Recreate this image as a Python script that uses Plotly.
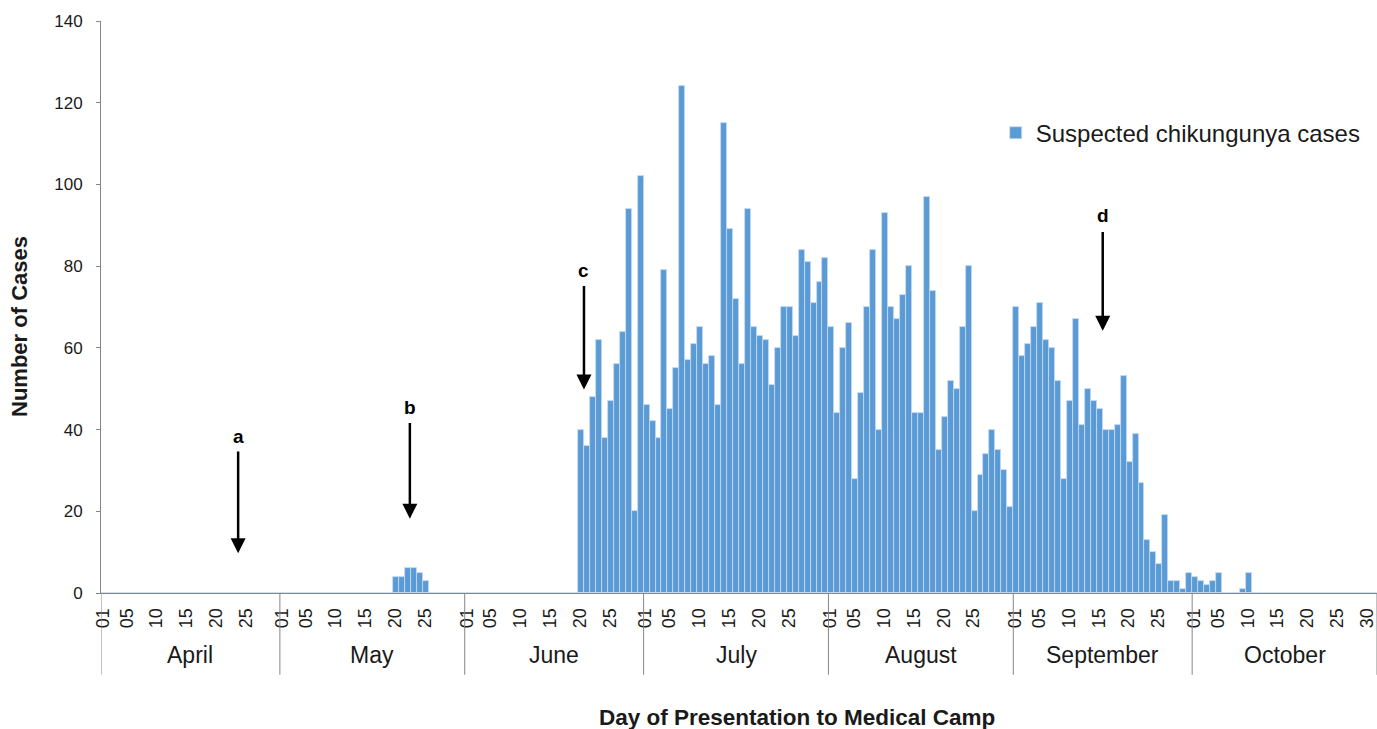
import plotly.graph_objects as go

# Daily counts of suspected chikungunya cases, one list per month
months = ["April", "May", "June", "July", "August", "September", "October"]
april = [0] * 30
may = [0] * 19 + [4, 4, 6, 6, 5, 3] + [0] * 6
june = [0] * 19 + [40, 36, 48, 62, 38, 47, 56, 64, 94, 20, 102]
july = [46, 42, 38, 79, 45, 55, 124, 57, 61, 65,
        56, 58, 46, 115, 89, 72, 56, 94, 65, 63,
        62, 51, 60, 70, 70, 63, 84, 81, 71, 76, 82]
august = [65, 44, 60, 66, 28, 49, 70, 84, 40, 93,
          70, 67, 73, 80, 44, 44, 97, 74, 35, 43,
          52, 50, 65, 80, 20, 29, 34, 40, 35, 30, 21]
september = [70, 58, 61, 65, 71, 62, 60, 52, 28, 47,
             67, 41, 50, 47, 45, 40, 40, 41, 53, 32,
             39, 27, 13, 10, 7, 19, 3, 3, 1, 5]
october = [4, 3, 2, 3, 5, 0, 0, 0, 1, 5] + [0] * 21

month_values = [april, may, june, july, august, september, october]
day_labels = ["01", "05", "10", "15", "20", "25"]
last_month_extra = ["30"]

# Event markers: (label, month, day position, arrow top value, arrow tip value, label value)
events = [
    ("a", "April", 23.5, 35, 9.7, 38.3),
    ("b", "May", 22.3, 42, 18.2, 45.4),
    ("c", "June", 20.5, 75.5, 49.8, 78.9),
    ("d", "September", 15.5, 88.7, 64.2, 92.4),
]

# Flatten the months into one sequential day index
cases = []
month_start = {}
tickvals, ticktext = [], []
for k, (name, vals) in enumerate(zip(months, month_values)):
    start = len(cases)
    month_start[name] = start
    shown = day_labels + (last_month_extra if k == len(months) - 1 else [])
    for d in range(1, len(vals) + 1):
        lab = f"{d:02d}"
        if lab in shown:
            tickvals.append(start + d - 1)
            ticktext.append(lab)
    cases.extend(vals)
n_days = len(cases)
idx = list(range(n_days))

BLUE = "#5B9BD5"
AXIS = "#868686"
FONT = "Liberation Sans, Arial, sans-serif"

fig = go.Figure()
fig.add_trace(go.Bar(
    x=idx, y=cases, name="Suspected chikungunya cases",
    marker=dict(color=BLUE, line=dict(color="#c9dcf0", width=0.8)),
))

fig.update_layout(
    width=1377, height=729,
    margin=dict(l=101, r=0, t=21, b=136, autoexpand=False),
    plot_bgcolor="white", paper_bgcolor="white",
    bargap=0,
    font=dict(family=FONT, color="#1a1a1a", size=17),
    showlegend=True,
    legend=dict(x=0.7012, y=0.804, xanchor="left", yanchor="middle",
                font=dict(size=24), bgcolor="rgba(0,0,0,0)"),
)

fig.update_yaxes(
    range=[0, 140], dtick=20, showgrid=False, zeroline=False,
    showline=True, linecolor=AXIS, linewidth=1,
    ticks="outside", ticklen=4, tickcolor=AXIS,
    tickfont=dict(size=17), ticklabelstandoff=10, automargin=False,
)
fig.update_xaxes(
    range=[-0.5, n_days - 0.5], showgrid=False, zeroline=False,
    showline=True, linecolor=AXIS, linewidth=1,
    ticks="", tickvals=tickvals, ticktext=ticktext, tickangle=-90,
    tickfont=dict(size=18), ticklabelstandoff=7, ticklabelshift=-1,
    ticklabeloverflow="allow", automargin=False,
)

# Month separators and month names beneath the day labels
bounds = [month_start[m] - 0.5 for m in months] + [n_days - 0.5]
for b in bounds:
    fig.add_shape(type="line", xref="x", yref="paper", x0=b, x1=b, y0=0, y1=-0.143,
                  line=dict(color=AXIS, width=1))
for i, m in enumerate(months):
    mid = (bounds[i] + bounds[i + 1]) / 2
    fig.add_annotation(x=mid, y=-0.108, xref="x", yref="paper", text=m,
                       showarrow=False, font=dict(size=23), yanchor="middle")

# Event arrows with their letters
for lab, m, day, top, tip, ly in events:
    xpos = month_start[m] + day - 1
    fig.add_annotation(x=xpos, y=tip, ax=xpos, ay=top, xref="x", yref="y",
                       axref="x", ayref="y", text="", showarrow=True,
                       arrowhead=2, arrowsize=1.2, arrowwidth=2.5, arrowcolor="black")
    fig.add_annotation(x=xpos, y=ly, xref="x", yref="y", text=f"<b>{lab}</b>",
                       showarrow=False, font=dict(size=19, color="black"))

# Axis titles
fig.add_annotation(x=0.5455, y=-0.2185, xref="paper", yref="paper",
                   text="<b>Day of Presentation to Medical Camp</b>",
                   showarrow=False, font=dict(size=22.5), yanchor="middle")
fig.add_annotation(x=-0.0635, y=0.4668, xref="paper", yref="paper",
                   text="<b>Number of Cases</b>", textangle=-90,
                   showarrow=False, font=dict(size=22), xanchor="center")

fig.write_html("out.html")
